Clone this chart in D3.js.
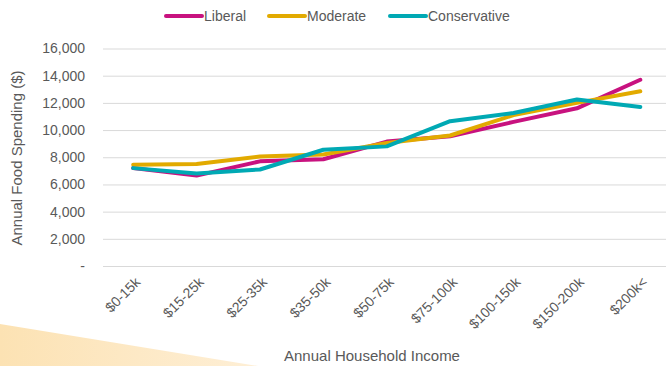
<!DOCTYPE html>
<html>
<head>
<meta charset="utf-8">
<script src="https://cdn.jsdelivr.net/npm/d3@7"></script>
<style>
  html, body { margin: 0; padding: 0; background: #fff; }
  svg { display: block; }
  text { font-family: "Liberation Sans Narrow", "Liberation Sans", "Arial Narrow", sans-serif; fill: #595959; }
</style>
</head>
<body>
<svg id="chart" width="666" height="366"></svg>
<script>
// Income brackets along the x axis
const categories = ["$0-15k", "$15-25k", "$25-35k", "$35-50k", "$50-75k", "$75-100k", "$100-150k", "$150-200k", "$200k<"];
// Annual food spending ($) by political leaning
const liberal      = [7200, 6650, 7700, 7850, 9150, 9550, 10600, 11600, 13700];
const moderate     = [7450, 7500, 8050, 8200, 9050, 9600, 11100, 12000, 12850];
const conservative = [7200, 6800, 7100, 8550, 8800, 10650, 11250, 12250, 11700];
const seriesNames  = ["Liberal", "Moderate", "Conservative"];
const seriesColors = ["#C8127F", "#E2AA00", "#00A9B4"];
const yTicks = [0, 2000, 4000, 6000, 8000, 10000, 12000, 14000, 16000];

const series = [liberal, moderate, conservative].map((v, i) => ({ name: seriesNames[i], color: seriesColors[i], values: v }));

const svg = d3.select("#chart");
const W = 666, H = 366;

// Decorative peach wedge in the lower-left corner
const defs = svg.append("defs");
const grad = defs.append("linearGradient").attr("id", "wedge").attr("x1", "0").attr("x2", "1").attr("y1", "0").attr("y2", "0");
grad.append("stop").attr("offset", "0").attr("stop-color", "#FCE2B3");
grad.append("stop").attr("offset", "1").attr("stop-color", "#FEEFD6");
svg.append("path").attr("d", "M0,324 L258,366 L0,366 Z").attr("fill", "url(#wedge)");

const x = d3.scaleBand().domain(categories).range([101.5, 672]);
const y = d3.scaleLinear().domain([0, 16000]).range([266, 48.5]);

// Horizontal gridlines with y tick labels
const yAxis = d3.axisLeft(y).tickValues(yTicks).tickSize(-(W - 103)).tickPadding(18)
  .tickFormat(d => d === 0 ? "-" : d3.format(",")(d));
const gy = svg.append("g").attr("transform", "translate(103,0)").call(yAxis);
gy.select(".domain").remove();
gy.selectAll(".tick line").attr("stroke", "#D9D9D9").attr("stroke-width", 1);
gy.selectAll(".tick text").attr("font-size", 14).style("fill", "#595959");

// X tick labels, rotated
const xAxis = d3.axisBottom(x).tickSize(0).tickPadding(0);
const gx = svg.append("g").attr("transform", "translate(0,266)").call(xAxis);
gx.select(".domain").remove();
gx.selectAll(".tick text")
  .attr("font-size", 14)
  .attr("text-anchor", "end")
  .attr("dy", 0)
  .attr("transform", "translate(8,17) rotate(-45)")
  .style("fill", "#595959");

// Series lines
const line = d3.line().x((d, i) => x(categories[i]) + x.bandwidth() / 2).y(d => y(d));
svg.append("g").selectAll("path").data(series).join("path")
  .attr("d", d => line(d.values))
  .attr("fill", "none")
  .attr("stroke", d => d.color)
  .attr("stroke-width", 4)
  .attr("stroke-linejoin", "round")
  .attr("stroke-linecap", "round");

// Axis titles
svg.append("text").attr("x", 372).attr("y", 361).attr("text-anchor", "middle").attr("font-size", 15)
  .text("Annual Household Income");
svg.append("text").attr("transform", "translate(22,158) rotate(-90)").attr("text-anchor", "middle").attr("font-size", 15)
  .text("Annual Food Spending ($)");

// Legend
const legendX = [166, 269, 390];
const lg = svg.append("g").selectAll("g").data(series).join("g")
  .attr("transform", (d, i) => `translate(${legendX[i]},16)`);
lg.append("line").attr("x1", 0).attr("x2", 36).attr("y1", 0).attr("y2", 0)
  .attr("stroke", d => d.color).attr("stroke-width", 4).attr("stroke-linecap", "round");
lg.append("text").attr("x", 38).attr("y", 5).attr("font-size", 14).text(d => d.name);
</script>
</body>
</html>
